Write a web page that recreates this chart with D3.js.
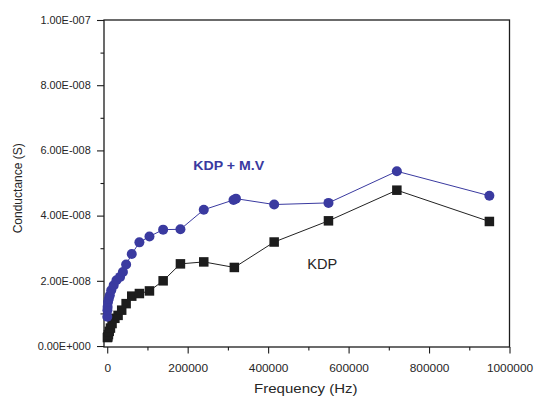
<!DOCTYPE html>
<html><head><meta charset="utf-8">
<script src="https://cdn.jsdelivr.net/npm/d3@7/dist/d3.min.js"></script>
<style>body{margin:0;background:#fff}svg{display:block;font-family:"Liberation Sans",Arial,sans-serif}</style>
</head><body><svg id="c" width="535" height="396"></svg>
<script>
// Data (frequency in Hz, conductance in S)
const kdpFreq = [950000, 720000, 550000, 415000, 316000, 240000, 182000, 139000, 105000, 80000, 61000, 47000, 36000, 27000, 19000, 12000, 8000, 5000, 3000, 1500, 500];
const kdpVals = [3.82e-8, 4.78e-8, 3.84e-8, 3.19e-8, 2.41e-8, 2.58e-8, 2.52e-8, 2.00e-8, 1.69e-8, 1.61e-8, 1.53e-8, 1.30e-8, 1.10e-8, 0.94e-8, 0.85e-8, 0.69e-8, 0.55e-8, 0.45e-8, 0.35e-8, 0.28e-8, 0.26e-8];
const mvFreq = [950000, 720000, 550000, 415000, 320000, 314000, 240000, 182000, 139000, 105000, 80000, 61000, 47000, 39000, 32000, 23000, 16000, 10000, 6500, 4000, 2000, 1000, 500, 200];
const mvVals = [4.61e-8, 5.36e-8, 4.39e-8, 4.34e-8, 4.52e-8, 4.48e-8, 4.18e-8, 3.58e-8, 3.57e-8, 3.36e-8, 3.18e-8, 2.82e-8, 2.50e-8, 2.27e-8, 2.12e-8, 2.02e-8, 1.86e-8, 1.71e-8, 1.56e-8, 1.45e-8, 1.35e-8, 1.20e-8, 1.10e-8, 0.90e-8];
const xTicks = [0, 200000, 400000, 600000, 800000, 1000000];
const xTickLabels = ["0", "200000", "400000", "600000", "800000", "1000000"];
const xMinor = [100000, 300000, 500000, 700000, 900000];
const yTicks = [0, 2e-8, 4e-8, 6e-8, 8e-8, 1e-7];
const yTickLabels = ["0.00E+000", "2.00E-008", "4.00E-008", "6.00E-008", "8.00E-008", "1.00E-007"];
const yMinor = [1e-8, 3e-8, 5e-8, 7e-8, 9e-8];
const xTitle = "Frequency (Hz)";
const yTitle = "Conductance (S)";
const seriesLabels = ["KDP + M.V", "KDP"];

const BLUE = "#3a3aa0", DARK = "#1c1c1c", TXT = "#262626";
const L = 104, R = 509.5, T = 20, B = 347;
const svg = d3.select("#c");
const x = d3.scaleLinear().domain([-8000, 1000000]).range([L, R]);
const y = d3.scaleLinear().domain([-0.3e-9, 1e-7]).range([B, T]);

function stretch(sel, k) {
  sel.each(function () {
    const w = this.getComputedTextLength();
    this.setAttribute("textLength", w * k);
    this.setAttribute("lengthAdjust", "spacingAndGlyphs");
  });
}

// axes
const gx = svg.append("g").attr("transform", `translate(0,${B})`)
  .call(d3.axisBottom(x).tickValues(xTicks).tickSize(6.5).tickPadding(11)
    .tickFormat((d, i) => xTickLabels[i]));
gx.select(".domain").remove();
gx.selectAll("text").attr("font-size", 11).attr("fill", TXT).call(stretch, 1.08);
const gxm = svg.append("g").attr("transform", `translate(0,${B})`)
  .call(d3.axisBottom(x).tickValues(xMinor).tickSize(3.5).tickFormat(""));
gxm.select(".domain").remove();

const gy = svg.append("g").attr("transform", `translate(${L},0)`)
  .call(d3.axisLeft(y).tickValues(yTicks).tickSize(7).tickPadding(6.3)
    .tickFormat((d, i) => yTickLabels[i]));
gy.select(".domain").remove();
gy.selectAll("text").attr("font-size", 10).attr("fill", TXT).call(stretch, 1.09);
const gym = svg.append("g").attr("transform", `translate(${L},0)`)
  .call(d3.axisLeft(y).tickValues(yMinor).tickSize(3.5).tickFormat(""));
gym.select(".domain").remove();
svg.selectAll(".tick line").attr("stroke", DARK).attr("stroke-width", 1.1);

// frame
svg.append("rect").attr("x", L).attr("y", T).attr("width", R - L).attr("height", B - T)
  .attr("fill", "none").attr("stroke", DARK).attr("stroke-width", 1.3);

// series
function series(fr, vals) {
  return fr.map((f, i) => ({ f, v: vals[i] })).sort((a, b) => a.f - b.f);
}
const kdp = series(kdpFreq, kdpVals);
const mv = series(mvFreq, mvVals);
const line = d3.line().x(d => x(d.f)).y(d => y(d.v));

svg.append("path").datum(kdp).attr("d", line).attr("fill", "none").attr("stroke", "#222").attr("stroke-width", 1);
svg.append("path").datum(mv).attr("d", line).attr("fill", "none").attr("stroke", BLUE).attr("stroke-width", 1);

const S = 9.5;
svg.append("g").selectAll("rect").data(kdp).join("rect")
  .attr("x", d => x(d.f) - S / 2).attr("y", d => y(d.v) - S / 2)
  .attr("width", S).attr("height", S).attr("fill", DARK);
svg.append("g").selectAll("circle").data(mv).join("circle")
  .attr("cx", d => x(d.f)).attr("cy", d => y(d.v)).attr("r", 5).attr("fill", BLUE);

// titles
svg.append("text").attr("x", 305.8).attr("y", 392.5).attr("text-anchor", "middle")
  .attr("font-size", 12.5).attr("fill", TXT).text(xTitle).call(stretch, 1.2);
svg.append("text").attr("transform", "translate(21.5,188.3) rotate(-90)").attr("text-anchor", "middle")
  .attr("font-size", 12).attr("fill", TXT).text(yTitle).call(stretch, 1.0);

// series labels
svg.append("text").attr("x", 193.3).attr("y", 170).attr("font-size", 12).attr("font-weight", "bold")
  .attr("fill", BLUE).text(seriesLabels[0]).call(stretch, 1.18);
svg.append("text").attr("x", 307.3).attr("y", 269.3).attr("font-size", 14)
  .attr("fill", TXT).text(seriesLabels[1]).call(stretch, 1.04);
</script></body></html>
